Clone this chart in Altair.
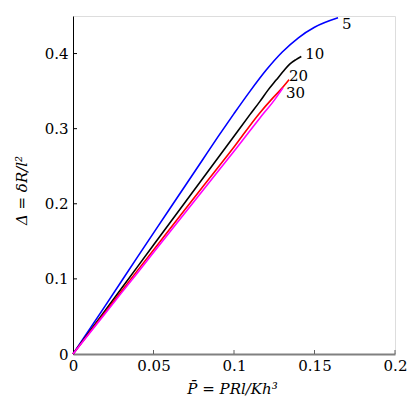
import altair as alt
import pandas as pd

# ---- data ----
names = ["5", "10", "20", "30"]
colors = ["#0000ff", "#000000", "#ff0000", "#ff00ff"]

p5 = [0, 0.02, 0.04, 0.06, 0.08, 0.09, 0.10, 0.11, 0.12, 0.13, 0.14, 0.15, 0.1646]
d5 = [0, 0.064, 0.129, 0.193, 0.257, 0.289, 0.320, 0.350, 0.378, 0.402, 0.421, 0.435, 0.4476]

p10 = [0, 0.02, 0.04, 0.06, 0.08, 0.10, 0.11, 0.116, 0.121, 0.1263, 0.1305, 0.1346, 0.1385, 0.1418]
d10 = [0, 0.058, 0.116, 0.174, 0.232, 0.290, 0.319, 0.336, 0.351, 0.365, 0.376, 0.386, 0.392, 0.396]

p20 = [0, 0.02, 0.04, 0.06, 0.08, 0.10, 0.116, 0.1232, 0.129, 0.1342]
d20 = [0, 0.0555, 0.111, 0.166, 0.221, 0.2755, 0.321, 0.3387, 0.352, 0.3653]

p30 = [0, 0.02, 0.04, 0.06, 0.08, 0.10, 0.116, 0.1253, 0.1304]
d30 = [0, 0.054, 0.108, 0.162, 0.216, 0.270, 0.314, 0.3387, 0.3543]

x_ticks = [0, 0.05, 0.1, 0.15, 0.2]
y_ticks = [0, 0.1, 0.2, 0.3, 0.4]

label_dx = [4, 4, 0, 3]
label_dy = [6, -3, -4, 5]

series = [(p5, d5), (p10, d10), (p20, d20), (p30, d30)]
rows = []
for name, (px, dy) in zip(names, series):
    for i, (a, b) in enumerate(zip(px, dy)):
        rows.append({"series": name, "P": a, "D": b, "i": i})
df = pd.DataFrame(rows)

ends = pd.DataFrame({
    "series": names,
    "P": [s[0][-1] for s in series],
    "D": [s[1][-1] for s in series],
})

FONT = "DejaVu Serif"
FS = 15
W, H = 322, 338

xs = alt.Scale(domain=[0, 0.2], nice=False, zero=False)
ys = alt.Scale(domain=[0, 0.45], nice=False, zero=False)

lines = alt.Chart(df).mark_line(strokeWidth=1.6, interpolate="monotone").encode(
    x=alt.X("P:Q", scale=xs, axis=alt.Axis(
        values=x_ticks, format="~g", title="P̄ = PRl/Kh³",
        domainColor="#808080", domainWidth=2, ticks=False, grid=False, labelFlush=False,
        labelFont=FONT, labelFontSize=FS, labelColor="#000", labelPadding=4,
        titleFont=FONT, titleFontSize=FS, titleFontStyle="italic", titleFontWeight="normal",
        titleColor="#000", titleX=159, titleY=34, titleBaseline="middle", titleAlign="center")),
    y=alt.Y("D:Q", scale=ys, axis=alt.Axis(
        values=y_ticks, format="~g", title="Δ = δR/l²",
        domainColor="#000", domainWidth=1, ticks=False, grid=False, labelFlush=False,
        labelFont=FONT, labelFontSize=FS, labelColor="#000", labelPadding=5,
        titleFont=FONT, titleFontSize=FS, titleFontStyle="italic", titleFontWeight="normal",
        titleColor="#000", titleAngle=270, titleX=-52, titleY=174,
        titleBaseline="middle", titleAlign="center")),
    color=alt.Color("series:N", scale=alt.Scale(domain=names, range=colors), legend=None),
    order="i:Q",
)

layers = [lines]
for k, name in enumerate(names):
    layers.append(
        alt.Chart(ends[ends.series == name]).mark_text(
            align="left", baseline="middle", font=FONT, fontSize=FS, color="#000",
            dx=label_dx[k], dy=label_dy[k]
        ).encode(x=alt.X("P:Q", scale=xs), y=alt.Y("D:Q", scale=ys), text="series:N")
    )

xt = alt.Chart(pd.DataFrame({"v": x_ticks[1:]})).mark_rule(color="#606060", strokeWidth=1).encode(
    x=alt.X("v:Q", scale=xs), y=alt.value(H), y2=alt.value(H - 4))
yt = alt.Chart(pd.DataFrame({"v": y_ticks[1:]})).mark_rule(color="#000", strokeWidth=1).encode(
    y=alt.Y("v:Q", scale=ys), x=alt.value(0), x2=alt.value(4))
layers += [xt, yt]

chart = alt.layer(*layers).properties(
    width=W, height=H,
    autosize=alt.AutoSizeParams(type="none"),
    padding={"left": 65, "top": 8, "right": 12, "bottom": 53},
).configure_view(stroke=None).configure(background="white")

chart.save("out.html", embed_options={"renderer": "svg", "actions": False})
